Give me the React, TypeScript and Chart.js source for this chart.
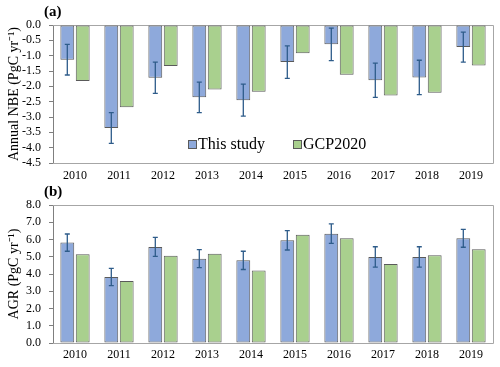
import React, { useEffect, useRef } from "react";
import { Chart, registerables } from "chart.js";

Chart.register(...registerables);

const years = ["2010", "2011", "2012", "2013", "2014", "2015", "2016", "2017", "2018", "2019"];
const seriesNames = ["This study", "GCP2020"];

const nbeThisStudy = [-1.13, -3.36, -1.72, -2.36, -2.45, -1.21, -0.63, -1.8, -1.71, -0.72];
const nbeThisStudyErr = [0.5, 0.5, 0.51, 0.5, 0.52, 0.53, 0.53, 0.56, 0.56, 0.49];
const nbeGCP = [-1.83, -2.68, -1.34, -2.1, -2.18, -0.92, -1.62, -2.3, -2.21, -1.32];

const agrThisStudy = [5.82, 3.83, 5.57, 4.89, 4.79, 5.95, 6.34, 4.99, 4.99, 6.07];
const agrThisStudyErr = [0.5, 0.5, 0.55, 0.52, 0.53, 0.56, 0.57, 0.59, 0.59, 0.52];
const agrGCP = [5.14, 3.59, 5.06, 5.18, 4.21, 6.28, 6.07, 4.58, 5.08, 5.43];

const BLUE = "#8EA9DB";
const GREEN = "#A9D08E";
const BAR_BORDER = "#5a5a5a";
const ERR_COLOR = "#2E5C8A";
const SERIF = "'Liberation Serif', 'Times New Roman', serif";

function makeConfig(opts: {
  blue: number[];
  green: number[];
  err: number[];
  min: number;
  max: number;
  step: number;
  title: string;
  panel: string;
  topPad: number;
  xHeight: number;
  xPad: number;
  legend: boolean;
}): any {
  const framePlugin = {
    id: "frame",
    beforeDatasetsDraw(chart: any) {
      const { ctx, chartArea: a } = chart;
      ctx.save();
      ctx.strokeStyle = "#a6a6a6";
      ctx.lineWidth = 1;
      ctx.beginPath();
      ctx.moveTo(a.left, a.top + 0.5);
      ctx.lineTo(a.right + 0.5, a.top + 0.5);
      ctx.lineTo(a.right + 0.5, a.bottom + 0.5);
      ctx.lineTo(a.left, a.bottom + 0.5);
      ctx.stroke();
      ctx.restore();
    },
    afterDatasetsDraw(chart: any) {
      const { ctx } = chart;
      const meta = chart.getDatasetMeta(0);
      const yScale = chart.scales.y;
      ctx.save();
      ctx.strokeStyle = ERR_COLOR;
      ctx.lineWidth = 1.3;
      meta.data.forEach((bar: any, i: number) => {
        const v = opts.blue[i];
        const e = opts.err[i];
        const y1 = yScale.getPixelForValue(v + e);
        const y2 = yScale.getPixelForValue(v - e);
        const x = bar.x;
        ctx.beginPath();
        ctx.moveTo(x, y1);
        ctx.lineTo(x, y2);
        ctx.moveTo(x - 2.5, y1);
        ctx.lineTo(x + 2.5, y1);
        ctx.moveTo(x - 2.5, y2);
        ctx.lineTo(x + 2.5, y2);
        ctx.stroke();
      });
      ctx.restore();
    },
    afterDraw(chart: any) {
      const { ctx, chartArea: a } = chart;
      ctx.save();
      ctx.fillStyle = "#000";
      ctx.font = `bold 15px ${SERIF}`;
      ctx.textBaseline = "middle";
      ctx.textAlign = "left";
      ctx.fillText(opts.panel, a.left - 9, a.top - 13);
      if (opts.legend) {
        const items = chart.data.datasets.map((d: any) => ({ label: d.label, color: d.backgroundColor }));
        const xs = [a.left + 135, a.left + 240];
        const yc = a.top + 119;
        ctx.font = `16px ${SERIF}`;
        items.forEach((it: any, i: number) => {
          const x = xs[i];
          ctx.fillStyle = it.color;
          ctx.fillRect(x, yc - 4, 8, 8);
          ctx.strokeStyle = BAR_BORDER;
          ctx.lineWidth = 1;
          ctx.strokeRect(x + 0.5, yc - 3.5, 8, 8);
          ctx.fillStyle = "#000";
          ctx.fillText(it.label, x + 10, yc + 1);
        });
      }
      ctx.restore();
    },
  };

  return {
    type: "bar",
    data: {
      labels: years,
      datasets: [
        {
          label: seriesNames[0],
          data: opts.blue,
          backgroundColor: BLUE,
          borderColor: BAR_BORDER,
          borderWidth: 1,
          borderSkipped: false,
          categoryPercentage: 0.7,
          barPercentage: 0.9,
        },
        {
          label: seriesNames[1],
          data: opts.green,
          backgroundColor: GREEN,
          borderColor: BAR_BORDER,
          borderWidth: 1,
          borderSkipped: false,
          categoryPercentage: 0.7,
          barPercentage: 0.9,
        },
      ],
    },
    options: {
      responsive: false,
      animation: false,
      layout: { padding: { top: opts.topPad, right: 7, left: 0, bottom: 0 } },
      plugins: { legend: { display: false }, tooltip: { enabled: false } },
      scales: {
        x: {
          grid: { display: false, drawTicks: false },
          border: { display: false },
          ticks: {
            color: "#000",
            font: { family: SERIF, size: 12 },
            padding: opts.xPad,
            maxRotation: 0,
            autoSkip: false,
          },
          afterFit: (s: any) => {
            s.height = opts.xHeight;
          },
        },
        y: {
          min: opts.min,
          max: opts.max,
          grid: { drawOnChartArea: false, drawTicks: true, tickLength: 4, color: "#7f7f7f" },
          border: { display: true, color: "#7f7f7f" },
          ticks: {
            stepSize: opts.step,
            autoSkip: false,
            color: "#000",
            padding: 8,
            font: { family: SERIF, size: 12 },
            callback: (v: any) => Number(v).toFixed(1),
          },
          title: {
            display: true,
            text: opts.title,
            color: "#000",
            font: { family: SERIF, size: 14 },
            padding: { top: 6, bottom: 0 },
          },
          afterFit: (s: any) => {
            s.width = 53;
          },
        },
      },
    },
    plugins: [framePlugin],
  };
}

export default function App() {
  const refA = useRef<HTMLCanvasElement>(null);
  const refB = useRef<HTMLCanvasElement>(null);

  useEffect(() => {
    const a = new Chart(
      refA.current as HTMLCanvasElement,
      makeConfig({
        blue: nbeThisStudy,
        green: nbeGCP,
        err: nbeThisStudyErr,
        min: -4.5,
        max: 0,
        step: 0.5,
        title: "Annual NBE (PgC yr\u207B\u00B9)",
        panel: "(a)",
        topPad: 25,
        xHeight: 20,
        xPad: 6,
        legend: true,
      })
    );
    const b = new Chart(
      refB.current as HTMLCanvasElement,
      makeConfig({
        blue: agrThisStudy,
        green: agrGCP,
        err: agrThisStudyErr,
        min: 0,
        max: 8,
        step: 1,
        title: "AGR (PgC yr\u207B\u00B9)",
        panel: "(b)",
        topPad: 22,
        xHeight: 24,
        xPad: 5,
        legend: false,
      })
    );
    return () => {
      a.destroy();
      b.destroy();
    };
  }, []);

  return (
    <div style={{ position: "absolute", left: 0, top: 0, width: 500, height: 367, background: "#fff" }}>
      <canvas ref={refA} width={500} height={183} style={{ display: "block", width: 500, height: 183 }} />
      <canvas ref={refB} width={500} height={184} style={{ display: "block", width: 500, height: 184 }} />
    </div>
  );
}
